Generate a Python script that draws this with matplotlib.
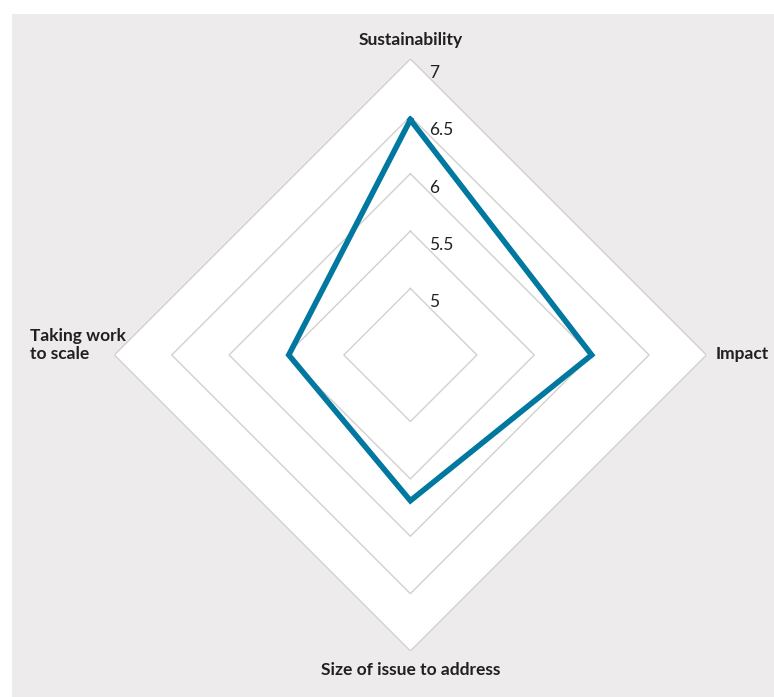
import numpy as np
import matplotlib
matplotlib.use("Agg")
import matplotlib.pyplot as plt

categories = ["Sustainability", "Impact", "Size of issue to address", "Taking work\nto scale"]
values = [6.47, 6.0, 5.69, 5.48]
ring_values = [5, 5.5, 6, 6.5, 7]
tick_labels = ["5", "5.5", "6", "6.5", "7"]
r_min, r_max = 4.42, 7

BG = "#EDEBEC"
GRID = "#D2D0D1"
LINE = "#00789F"
TEXT = "#231F20"
FONT = ["Lato", "DejaVu Sans"]

fig = plt.figure(figsize=(7.74, 6.97), dpi=100)
fig.patch.set_facecolor("white")
# grey panel
fig.patches.append(plt.Rectangle((12/774, 0), 1, 1 - 14/697, transform=fig.transFigure,
                                 facecolor=BG, edgecolor="none", zorder=-10))

ax = fig.add_axes([0.1477, 0.066, 0.765, 0.8494], projection="polar")
ax.set_zorder(1)
ax.set_facecolor("none")
ax.set_theta_offset(np.pi / 2)
ax.set_theta_direction(-1)
ax.set_ylim(r_min, r_max)
ax.spines["polar"].set_visible(False)
ax.grid(False)
ax.set_xticks([])
ax.set_yticks([])

n = len(categories)
angles = np.arange(n) * 2 * np.pi / n
ang_closed = np.concatenate([angles, angles[:1]])

# white fill of outer polygon
ax.fill(ang_closed, [r_max] * (n + 1), color="white", zorder=1, lw=0)
for rv in ring_values:
    ax.plot(ang_closed, [rv] * (n + 1), color=GRID, lw=1.0, zorder=2)

vals_closed = values + values[:1]
ax.plot(ang_closed, vals_closed, color=LINE, lw=4.0, zorder=3, solid_joinstyle="miter")

for rv, tl in zip(ring_values, tick_labels):
    ax.annotate(tl, xy=(0, rv), xytext=(19, -14), textcoords="offset pixels",
                ha="left", va="center", fontsize=12.5, color=TEXT, family=FONT, zorder=4)

label_offsets = [((0, 19), "center", "center"),
                 ((9, 1), "left", "center"),
                 ((0, -19), "center", "center"),
                 ((-84, 10), "left", "center")]
for ang, lab, (off, ha, va) in zip(angles, categories, label_offsets):
    ax.annotate(lab, xy=(ang, r_max), xytext=off, textcoords="offset pixels",
                ha=ha, va=va, fontsize=12.5, fontweight="bold", color=TEXT,
                family=FONT, linespacing=1.2, annotation_clip=False)

fig.savefig("out.png", dpi=100, facecolor=fig.get_facecolor())
